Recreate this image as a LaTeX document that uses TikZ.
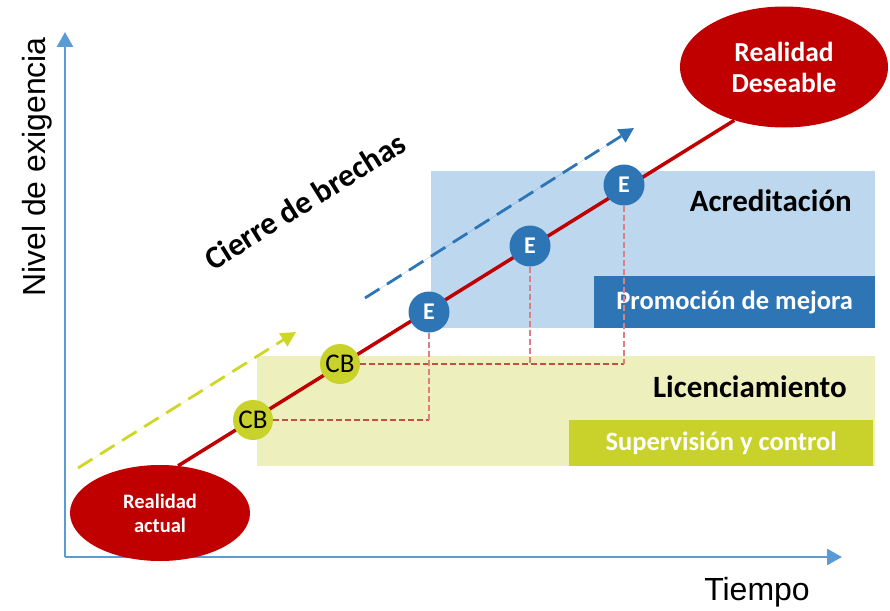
\documentclass[tikz,border=0pt]{standalone}
\usepackage{fontspec}
\setmainfont{Carlito}
\newfontfamily\axisfont{Liberation Sans}
\usepackage{xcolor}
\usetikzlibrary{shapes.geometric,arrows.meta}
\definecolor{dred}{HTML}{C00000}
\definecolor{lblue}{HTML}{BDD7EE}
\definecolor{mblue}{HTML}{2E75B6}
\definecolor{lgreen}{HTML}{EDF0BC}
\definecolor{mgreen}{HTML}{C9D22A}
\definecolor{axisblue}{HTML}{5B9BD5}
\definecolor{guidered}{HTML}{C0504D}
\definecolor{guidepink}{HTML}{DC7F84}

\begin{document}
\begin{tikzpicture}[x=1pt,y=-1pt,
    zone/.style={shape=rectangle, inner sep=0pt, anchor=north west},
    tag/.style={shape=rectangle, inner sep=0pt, text=white, font=\bfseries\fontsize{26.5}{26.5}\selectfont},
    level/.style={inner sep=0pt, anchor=base east, font=\bfseries\fontsize{31}{31}\selectfont},
    reality/.style={shape=ellipse, fill=dred, inner sep=0pt, text=white, align=center},
    cb/.style={shape=circle, fill=mgreen, minimum size=40pt, inner sep=0pt, font=\fontsize{27}{27}\selectfont},
    ev/.style={shape=circle, fill=mblue, minimum size=41pt, inner sep=0pt, text=white, font=\bfseries\fontsize{24}{24}\selectfont},
    hguide/.style={draw=guidered, line width=1.1pt, dash pattern=on 6pt off 3pt},
    vguide/.style={draw=guidepink, line width=1.1pt, dash pattern=on 6pt off 3pt},
    axis/.style={draw=axisblue, line width=2.6pt, -{Triangle[length=15pt,width=16pt]}},
    trend/.style={line width=2.8pt, dash pattern=on 17pt off 9pt, -{Triangle[length=15pt,width=15pt]}}]
    \useasboundingbox (0,0) rectangle (890,610);

    \node[zone, fill=lblue, minimum width=444pt, minimum height=157pt] (acred) at (431,171) {};
    \node[zone, fill=lgreen, minimum width=618pt, minimum height=110pt] (licen) at (257,356) {};
    \node[zone, fill=mblue, minimum width=281pt, minimum height=52pt] (mejora) at (594,276) {};
    \node[zone, fill=mgreen, minimum width=304pt, minimum height=46pt] (control) at (569,420) {};
    \node[tag] (mejoratxt) at (mejora.center) {Promoción de mejora};
    \node[tag] (controltxt) at (control.center) {Supervisión y control};
    \node[level] (acredtxt) at (852,211) {Acreditación};
    \node[level] (licentxt) at (847,397) {Licenciamiento};

    \coordinate (origin) at (65,557);
    \coordinate (ytop) at (65,32);
    \coordinate (xend) at (842,557);
    \draw[axis] (origin) -- (ytop);
    \draw[axis] (origin) -- (xend);
    \node[rotate=90, inner sep=0pt, font=\axisfont\fontsize{32}{32}\selectfont] (ylab) at (37,167) {Nivel de exigencia};
    \node[anchor=base, inner sep=0pt, font=\axisfont\fontsize{32}{32}\selectfont] (xlab) at (757,600) {Tiempo};

    \coordinate (g0) at (78,468);
    \coordinate (g1) at (296,332);
    \coordinate (b0) at (365,298);
    \coordinate (b1) at (634,128);
    \draw[trend, draw=mgreen!90!yellow, fill=mgreen!90!yellow] (g0) -- (g1);
    \draw[trend, draw=mblue, fill=mblue] (b0) -- (b1);
    \node[rotate=32, inner sep=0pt, font=\bfseries\fontsize{32}{32}\selectfont] (brechas) at (305,201) {Cierre de brechas};

    \node[reality, minimum width=180pt, minimum height=96pt, font=\bfseries\fontsize{20.5}{24}\selectfont] (actual) at (160,513) {Realidad\\actual};
    \node[reality, minimum width=208pt, minimum height=121pt, font=\bfseries\fontsize{27.5}{31}\selectfont] (deseable) at (784,67) {Realidad\\Deseable};
    \draw[dred, line width=3.5pt] (actual.69) -- (deseable.227);

    \node[cb] (cb1) at (253,420) {CB};
    \node[cb] (cb2) at (340,364) {CB};
    \node[ev] (e1) at (429,312) {E};
    \node[ev] (e2) at (530,246) {E};
    \node[ev] (e3) at (624,185) {E};

    \coordinate (k1) at (cb1.east -| e1.south);
    \coordinate (k2) at (cb2.east -| e2.south);
    \coordinate (k3) at (cb2.east -| e3.south);
    \draw[hguide] (cb1.east) -- (k1);
    \draw[hguide] (cb2.east) -- (k3);
    \draw[vguide] (e1.south) -- (k1);
    \draw[vguide] (e2.south) -- (k2);
    \draw[vguide] (e3.south) -- (k3);
\end{tikzpicture}
\end{document}
